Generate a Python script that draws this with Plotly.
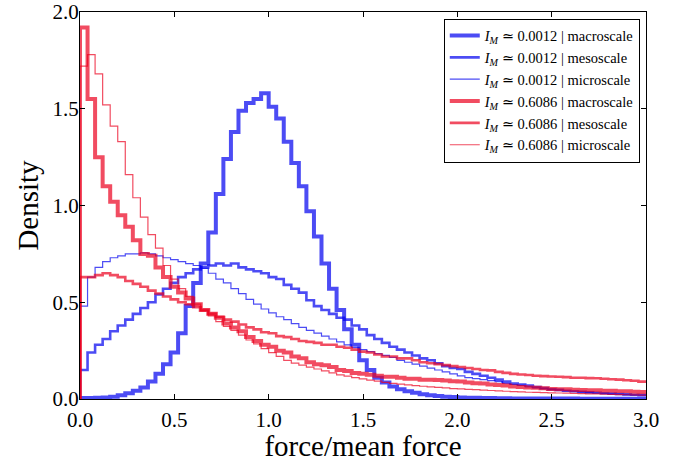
import numpy as np
import plotly.graph_objects as go

# histogram bins (width 0.04) over force/mean force in [0, 3]
bin_edges = np.linspace(0.0, 3.0, 76)

blue_macro = [0.005, 0.005, 0.006, 0.008, 0.012, 0.02, 0.03, 0.042, 0.06, 0.09,
              0.13, 0.18, 0.24, 0.34, 0.48, 0.60, 0.70, 0.86, 1.06, 1.24,
              1.38, 1.49, 1.53, 1.55, 1.58, 1.51, 1.45, 1.33, 1.22, 1.10,
              0.97, 0.84, 0.70, 0.57, 0.46, 0.36, 0.28, 0.20, 0.15, 0.11,
              0.085, 0.065, 0.05, 0.04, 0.032, 0.025, 0.02, 0.015, 0.012, 0.01,
              0.008, 0.007, 0.006, 0.005, 0.005, 0.004, 0.004, 0.003, 0.003, 0.003,
              0.002, 0.002, 0.002, 0.002, 0.002, 0.002, 0.001, 0.001, 0.001, 0.001,
              0.001, 0.001, 0.001, 0.001, 0.001]

blue_meso = [0.15, 0.24, 0.28, 0.31, 0.35, 0.38, 0.41, 0.44, 0.47, 0.50,
             0.54, 0.57, 0.60, 0.63, 0.65, 0.67, 0.68, 0.69, 0.70, 0.69,
             0.70, 0.68, 0.67, 0.66, 0.65, 0.63, 0.62, 0.59, 0.57, 0.55,
             0.51, 0.48, 0.46, 0.44, 0.42, 0.41, 0.38, 0.36, 0.33, 0.31,
             0.29, 0.27, 0.255, 0.24, 0.225, 0.21, 0.20, 0.185, 0.17, 0.16,
             0.155, 0.14, 0.13, 0.12, 0.11, 0.10, 0.09, 0.08, 0.075, 0.07,
             0.062, 0.056, 0.05, 0.047, 0.043, 0.04, 0.037, 0.034, 0.032, 0.03,
             0.028, 0.026, 0.024, 0.022, 0.02]

blue_micro = [0.48, 0.63, 0.68, 0.71, 0.73, 0.74, 0.75, 0.75, 0.755, 0.75,
              0.74, 0.73, 0.72, 0.71, 0.70, 0.69, 0.675, 0.65, 0.62, 0.60,
              0.57, 0.545, 0.515, 0.49, 0.465, 0.445, 0.425, 0.41, 0.39, 0.37,
              0.355, 0.34, 0.325, 0.31, 0.295, 0.28, 0.265, 0.255, 0.245, 0.235,
              0.225, 0.215, 0.20, 0.19, 0.18, 0.17, 0.16, 0.15, 0.14, 0.13,
              0.12, 0.11, 0.105, 0.10, 0.095, 0.09, 0.08, 0.075, 0.07, 0.063,
              0.058, 0.054, 0.05, 0.047, 0.043, 0.04, 0.037, 0.034, 0.031, 0.029,
              0.027, 0.025, 0.023, 0.021, 0.02]

red_macro = [1.92, 1.55, 1.25, 1.10, 1.02, 0.95, 0.89, 0.82, 0.75, 0.74,
             0.68, 0.63, 0.58, 0.55, 0.52, 0.49, 0.46, 0.44, 0.42, 0.39,
             0.37, 0.35, 0.32, 0.30, 0.28, 0.27, 0.25, 0.24, 0.22, 0.21,
             0.19, 0.18, 0.175, 0.165, 0.15, 0.145, 0.135, 0.13, 0.125, 0.12,
             0.115, 0.115, 0.11, 0.105, 0.105, 0.10, 0.10, 0.098, 0.095, 0.092,
             0.09, 0.085, 0.082, 0.08, 0.075, 0.072, 0.07, 0.065, 0.062, 0.06,
             0.058, 0.055, 0.052, 0.05, 0.05, 0.048, 0.047, 0.045, 0.045, 0.043,
             0.042, 0.04, 0.04, 0.038, 0.036]

red_meso = [0.63, 0.63, 0.64, 0.65, 0.64, 0.63, 0.61, 0.595, 0.58, 0.56,
            0.545, 0.53, 0.515, 0.50, 0.49, 0.475, 0.46, 0.44, 0.425, 0.41,
            0.40, 0.385, 0.37, 0.36, 0.345, 0.34, 0.325, 0.32, 0.31, 0.30,
            0.295, 0.29, 0.28, 0.28, 0.27, 0.265, 0.255, 0.245, 0.24, 0.23,
            0.22, 0.22, 0.21, 0.21, 0.20, 0.19, 0.185, 0.18, 0.175, 0.17,
            0.165, 0.16, 0.155, 0.15, 0.148, 0.14, 0.135, 0.13, 0.127, 0.124,
            0.12, 0.118, 0.116, 0.115, 0.113, 0.11, 0.11, 0.108, 0.107, 0.105,
            0.102, 0.10, 0.097, 0.094, 0.09]

red_micro = [1.72, 1.78, 1.68, 1.52, 1.41, 1.33, 1.16, 1.04, 0.94, 0.85,
             0.78, 0.69, 0.62, 0.57, 0.53, 0.49, 0.455, 0.43, 0.40, 0.375,
             0.355, 0.33, 0.305, 0.285, 0.26, 0.24, 0.22, 0.20, 0.185, 0.175,
             0.165, 0.155, 0.145, 0.135, 0.125, 0.118, 0.11, 0.104, 0.098, 0.092,
             0.086, 0.081, 0.077, 0.073, 0.069, 0.066, 0.063, 0.06, 0.057, 0.054,
             0.052, 0.05, 0.048, 0.046, 0.044, 0.042, 0.04, 0.038, 0.037, 0.035,
             0.034, 0.033, 0.032, 0.031, 0.03, 0.029, 0.028, 0.027, 0.026, 0.025,
             0.024, 0.023, 0.022, 0.021, 0.02]

series_labels = [
    "<i>I</i><sub><i>M</i></sub> \u2243 0.0012 | macroscale",
    "<i>I</i><sub><i>M</i></sub> \u2243 0.0012 | mesoscale",
    "<i>I</i><sub><i>M</i></sub> \u2243 0.0012 | microscale",
    "<i>I</i><sub><i>M</i></sub> \u2243 0.6086 | macroscale",
    "<i>I</i><sub><i>M</i></sub> \u2243 0.6086 | mesoscale",
    "<i>I</i><sub><i>M</i></sub> \u2243 0.6086 | microscale",
]
series_values = [blue_macro, blue_meso, blue_micro, red_macro, red_meso, red_micro]

BLUE = "rgba(0,0,240,0.70)"
RED = "rgba(235,0,30,0.70)"
styles = [(BLUE, 4.0), (BLUE, 2.6), (BLUE, 1.2), (RED, 4.0), (RED, 2.6), (RED, 1.2)]

fig = go.Figure()
for label, vals, (col, w) in zip(series_labels, series_values, styles):
    xs = [bin_edges[0]] + list(bin_edges[:-1]) + [bin_edges[-1]]
    ys = [0.0] + list(vals) + [vals[-1]]
    fig.add_trace(go.Scatter(
        x=xs, y=ys, mode="lines", name=label,
        line=dict(color=col, width=w, shape="hv"),
    ))

SERIF = "Liberation Serif, DejaVu Serif, serif"
fig.update_layout(
    width=686, height=462,
    margin=dict(l=80, r=40, t=12, b=63, autoexpand=False),
    paper_bgcolor="white", plot_bgcolor="white",
    font=dict(family=SERIF, color="black"),
    showlegend=True,
    legend=dict(
        x=0.989, y=0.983, xanchor="right", yanchor="top",
        bgcolor="white", bordercolor="black", borderwidth=1,
        font=dict(family=SERIF, size=14.5, color="black"),
        tracegroupgap=0,
    ),
)
fig.update_xaxes(
    range=[0, 3], tickvals=[0, 0.5, 1.0, 1.5, 2.0, 2.5, 3.0],
    ticktext=["0.0", "0.5", "1.0", "1.5", "2.0", "2.5", "3.0"],
    ticks="inside", ticklen=5, tickcolor="black", mirror="ticks",
    showline=True, linecolor="black", linewidth=1,
    showgrid=False, zeroline=False, automargin=False,
    ticklabelstandoff=2, ticklabeloverflow="allow",
    tickfont=dict(family=SERIF, size=21),
    title=dict(text="force/mean force", font=dict(family=SERIF, size=29), standoff=4),
)
fig.update_yaxes(
    range=[0, 2], tickvals=[0, 0.5, 1.0, 1.5, 2.0],
    ticktext=["0.0", "0.5", "1.0", "1.5", "2.0"],
    ticks="inside", ticklen=5, tickcolor="black", mirror="ticks",
    showline=True, linecolor="black", linewidth=1,
    showgrid=False, zeroline=False, automargin=False,
    ticklabelstandoff=-4, ticklabeloverflow="allow",
    tickfont=dict(family=SERIF, size=21),
    title=dict(text="Density", font=dict(family=SERIF, size=29), standoff=5),
)

fig.write_html("out.html", config={"displayModeBar": False},
               post_script="document.body.style.margin='0px';")
